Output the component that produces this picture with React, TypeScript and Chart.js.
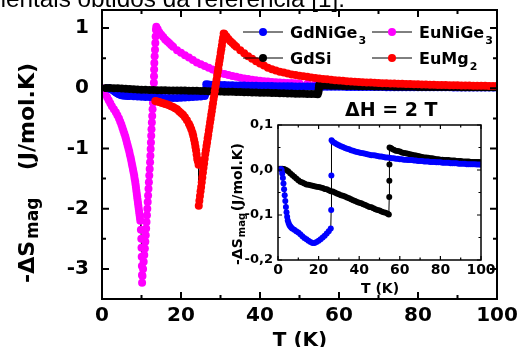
import { useEffect, useRef } from 'react';
import { Chart, registerables } from 'chart.js';

Chart.register(...registerables);

const FAMILY = '"DejaVu Sans", "Liberation Sans", Arial, sans-serif';

const COLORS: Record<string, string> = {
  GdNiGe3: '#0000ff',
  EuNiGe3: '#ff00ff',
  GdSi: '#000000',
  EuMg2: '#ff0000',
};

// ---------------- data (T in K, -ΔS in J/mol.K) ----------------
const gdNiGe3T = [
  1.4, 1.8, 2.1, 2.4, 2.7, 3.0, 3.3, 3.6, 3.9, 4.2, 4.5, 4.8, 5.2, 5.6, 6.0, 6.5,
  7, 8, 9, 10, 11, 12, 13, 14, 15, 16, 17, 18, 19, 20, 21, 22, 23, 24, 25, 26,
  26.2, 26.3, 26.4,
  27, 28, 29, 30, 31, 32, 33, 34, 35, 36, 37, 38, 39, 40,
  41, 42, 43, 44, 45, 46, 47, 48, 49, 50,
  51, 52, 53, 54, 55, 56, 57, 58, 59, 60,
  61, 62, 63, 64, 65, 66, 67, 68, 69, 70,
  71, 72, 73, 74, 75, 76, 77, 78, 79, 80,
  81, 82, 83, 84, 85, 86, 87, 88, 89, 90,
  91, 92, 93, 94, 95, 96, 97, 98, 99, 100,
];
const gdNiGe3S = [
  0.002, 0.0, -0.008, -0.018, -0.03, -0.043, -0.056, -0.069, -0.082, -0.094, -0.104, -0.112, -0.118, -0.122, -0.125, -0.128,
  -0.13, -0.133, -0.136, -0.139, -0.143, -0.147, -0.151, -0.154, -0.157, -0.16, -0.162, -0.162, -0.16, -0.157, -0.154, -0.15, -0.146, -0.141, -0.136, -0.13,
  -0.089, -0.012, 0.066,
  0.063, 0.06, 0.057, 0.055, 0.053, 0.051, 0.049, 0.047, 0.046, 0.044, 0.043, 0.041, 0.04, 0.039,
  0.038, 0.037, 0.036, 0.035, 0.034, 0.033, 0.033, 0.032, 0.031, 0.03,
  0.03, 0.029, 0.028, 0.028, 0.027, 0.026, 0.026, 0.025, 0.025, 0.024,
  0.024, 0.023, 0.023, 0.022, 0.022, 0.022, 0.021, 0.021, 0.02, 0.02,
  0.02, 0.019, 0.019, 0.019, 0.018, 0.018, 0.018, 0.017, 0.017, 0.017,
  0.016, 0.016, 0.016, 0.016, 0.015, 0.015, 0.015, 0.015, 0.014, 0.014,
  0.014, 0.014, 0.013, 0.013, 0.013, 0.013, 0.013, 0.012, 0.012, 0.012,
];

const gdSiT = [
  1, 2, 3, 4, 5, 6, 7, 8, 9, 10,
  11, 12, 13, 14, 15, 16, 17, 18, 19, 20,
  21, 22, 23, 24, 25, 26, 27, 28, 29, 30,
  31, 32, 33, 34, 35, 36, 37, 38, 39, 40,
  41, 42, 43, 44, 45, 46, 47, 48, 49, 50,
  51, 52, 53, 54,
  54.6, 54.8, 54.85, 54.9, 54.95, 55.5,
  56, 57, 58, 59, 60,
  61, 62, 63, 64, 65, 66, 67, 68, 69, 70,
  71, 72, 73, 74, 75, 76, 77, 78, 79, 80,
  81, 82, 83, 84, 85, 86, 87, 88, 89, 90,
  91, 92, 93, 94, 95, 96, 97, 98, 99, 100,
];
const gdSiS = [
  0.003, 0.003, 0.002, 0.0, -0.003, -0.007, -0.011, -0.015, -0.019, -0.023,
  -0.026, -0.028, -0.03, -0.032, -0.033, -0.034, -0.035, -0.036, -0.037, -0.038,
  -0.039, -0.04, -0.042, -0.043, -0.045, -0.047, -0.048, -0.05, -0.052, -0.054,
  -0.056, -0.057, -0.059, -0.061, -0.063, -0.065, -0.067, -0.069, -0.071, -0.073,
  -0.074, -0.076, -0.078, -0.08, -0.082, -0.083, -0.085, -0.087, -0.089, -0.09,
  -0.092, -0.094, -0.095, -0.097,
  -0.099, -0.06, -0.024, 0.012, 0.05, 0.049,
  0.047, 0.045, 0.043, 0.042, 0.041,
  0.039, 0.038, 0.037, 0.036, 0.035, 0.034, 0.033, 0.032, 0.031, 0.03,
  0.029, 0.028, 0.028, 0.027, 0.026, 0.026, 0.025, 0.024, 0.024, 0.023,
  0.023, 0.022, 0.022, 0.022, 0.021, 0.021, 0.021, 0.02, 0.02, 0.02,
  0.019, 0.019, 0.019, 0.019, 0.018, 0.018, 0.018, 0.018, 0.018, 0.017,
];

const euNiGe3T = [
  0, 0.45, 0.9, 1.3, 1.7, 2.1, 2.5, 3.0, 3.5, 3.9,
  4.3, 4.6, 4.9, 5.15, 5.4, 5.65, 5.9, 6.1, 6.3, 6.5,
  6.7, 6.9, 7.05, 7.25, 7.4, 7.55, 7.7, 7.85, 8.0, 8.15,
  8.25, 8.4, 8.5, 8.6, 8.7, 8.8, 8.9, 9.0, 9.1, 9.2,
  9.3, 9.4, 9.5, 9.6, 9.7, 9.85, 9.95, 10.0, 10.05, 10.1,
  10.12, 10.15,
  10.25, 10.4, 10.55, 10.7, 10.85, 10.97, 11.07, 11.17, 11.27, 11.37,
  11.47, 11.57, 11.67, 11.77, 11.87, 11.97, 12.07, 12.17, 12.25, 12.32,
  12.39, 12.46, 12.53, 12.62, 12.71, 12.8, 12.9, 13.0, 13.08, 13.13,
  13.17, 13.2, 13.25, 13.33, 13.42, 13.5, 13.58, 13.66, 13.75,
  14.1, 14.5, 15, 15.5, 16, 16.5, 17, 17.5, 18,
  19, 20, 21, 22, 23, 24, 25, 26, 27, 28,
  29, 30, 31, 32, 33, 34, 35, 36, 37, 38,
  39, 40, 41, 42, 43, 44, 45, 46, 47, 48,
  49, 50,
  52, 54, 56, 58, 60, 62, 64, 66, 68, 70,
  72, 74, 76, 78, 80, 82, 84, 86, 88, 90,
  92, 94, 96, 98, 100,
];
const euNiGe3S = [
  0, -0.05, -0.1, -0.15, -0.2, -0.25, -0.3, -0.35, -0.4, -0.45,
  -0.5, -0.55, -0.6, -0.65, -0.7, -0.75, -0.8, -0.85, -0.9, -0.95,
  -1.0, -1.05, -1.1, -1.15, -1.2, -1.25, -1.3, -1.35, -1.4, -1.45,
  -1.5, -1.55, -1.6, -1.65, -1.7, -1.75, -1.8, -1.85, -1.9, -1.95,
  -2.0, -2.05, -2.1, -2.15, -2.2, -2.35, -2.5, -2.65, -2.8, -2.95,
  -3.1, -3.23,
  -3.12, -3.0, -2.88, -2.77, -2.66, -2.55, -2.44, -2.33, -2.22, -2.11,
  -2.0, -1.89, -1.78, -1.67, -1.56, -1.45, -1.34, -1.23, -1.12, -1.01,
  -0.9, -0.79, -0.68, -0.57, -0.46, -0.35, -0.24, -0.13, -0.02, 0.09,
  0.2, 0.31, 0.42, 0.53, 0.64, 0.75, 0.86, 0.97, 1.02,
  0.98, 0.93, 0.89, 0.85, 0.81, 0.78, 0.75, 0.72, 0.69,
  0.63, 0.59, 0.55, 0.51, 0.47, 0.43, 0.4, 0.37, 0.34, 0.31,
  0.275, 0.25, 0.235, 0.22, 0.205, 0.19, 0.175, 0.163, 0.152, 0.142,
  0.133, 0.125, 0.118, 0.112, 0.106, 0.101, 0.097, 0.093, 0.089, 0.086,
  0.083, 0.08,
  0.075, 0.071, 0.067, 0.063, 0.06, 0.057, 0.054, 0.052, 0.05, 0.048,
  0.046, 0.044, 0.043, 0.041, 0.04, 0.039, 0.038, 0.037, 0.036, 0.035,
  0.034, 0.033, 0.032, 0.031, 0.03,
];

const euMg2T = [
  13.5, 14, 14.5, 15, 15.5, 16, 16.5, 17, 17.5, 18,
  18.5, 19, 19.5, 20, 20.5, 21, 21.5, 22, 22.3, 22.6,
  22.9, 23.1, 23.3, 23.5, 23.65, 23.8, 23.95, 24.1, 24.25, 24.45,
  24.5, 24.65, 24.8, 24.95, 25.1, 25.25, 25.4, 25.55, 25.7, 25.85,
  26.0, 26.15, 26.3, 26.45, 26.6, 26.75, 26.9, 27.05, 27.2, 27.35,
  27.5, 27.65, 27.8, 27.95, 28.1, 28.25, 28.4, 28.55, 28.7, 28.85,
  29.0, 29.15, 29.3, 29.45, 29.6, 29.75, 29.9, 30.05, 30.2, 30.35,
  30.5, 30.65, 30.8,
  31, 31.5, 32, 32.5, 33, 33.5, 34,
  35, 36, 37, 38, 39, 40, 41, 42, 43, 44,
  45, 46, 47, 48, 49, 50, 51, 52, 53, 54,
  55, 56, 57, 58, 59, 60, 61, 62, 63, 64,
  65, 66, 67, 68, 69, 70, 71, 72, 73, 74,
  75, 76, 77, 78, 79, 80, 81, 82, 83, 84,
  85, 86, 87, 88, 89, 90, 91, 92, 93, 94,
  95, 96, 97, 98, 99, 100,
];
const euMg2S = [
  -0.21, -0.22, -0.23, -0.24, -0.25, -0.26, -0.27, -0.28, -0.3, -0.31,
  -0.33, -0.35, -0.38, -0.41, -0.44, -0.48, -0.53, -0.59, -0.63, -0.68,
  -0.74, -0.79, -0.85, -0.91, -0.97, -1.03, -1.1, -1.17, -1.21, -1.27,
  -1.95, -1.87, -1.79, -1.71, -1.64, -1.56, -1.48, -1.4, -1.32, -1.25,
  -1.17, -1.09, -1.03, -0.96, -0.9, -0.83, -0.77, -0.7, -0.64, -0.57,
  -0.51, -0.44, -0.38, -0.31, -0.25, -0.18, -0.12, -0.05, 0.02, 0.08,
  0.14, 0.21, 0.27, 0.33, 0.4, 0.46, 0.52, 0.59, 0.65, 0.71,
  0.78, 0.84, 0.91,
  0.9, 0.86, 0.82, 0.78, 0.75, 0.72, 0.69,
  0.63, 0.58, 0.53, 0.49, 0.45, 0.41, 0.38, 0.34, 0.315, 0.295,
  0.275, 0.26, 0.245, 0.23, 0.22, 0.21, 0.2, 0.19, 0.18, 0.172,
  0.164, 0.156, 0.149, 0.142, 0.135, 0.129, 0.123, 0.118, 0.113, 0.108,
  0.104, 0.1, 0.097, 0.094, 0.091, 0.088, 0.085, 0.083, 0.08, 0.078,
  0.076, 0.074, 0.072, 0.07, 0.068, 0.066, 0.064, 0.062, 0.06, 0.058,
  0.056, 0.055, 0.053, 0.052, 0.05, 0.049, 0.047, 0.046, 0.045, 0.043,
  0.042, 0.041, 0.04, 0.039, 0.038, 0.037,
];

// ---------------- axes / labels ----------------
const mainXTicks = [0, 20, 40, 60, 80, 100];
const mainXMinor = [10, 30, 50, 70, 90];
const mainYTicks = [-3, -2, -1, 0, 1];
const mainYMinor = [-3.5, -2.5, -1.5, -0.5, 0.5];
const insetXTicks = [0, 20, 40, 60, 80, 100];
const insetXMinor = [10, 30, 50, 70, 90];
const insetYTicks = [-0.2, -0.1, 0, 0.1];
const insetYMinor = [-0.15, -0.05, 0.05];

const legendOrder = ['GdNiGe3', 'EuNiGe3', 'GdSi', 'EuMg2'];
const caption = 'experimentais obtidos da referência [1].';
const fieldLabel = 'ΔH = 2 T';
const xTitle = 'T (K)';
const yTitleMain = '-ΔS';
const yTitleSub = 'mag';
const yTitleUnit = '(J/mol.K)';

const pts = (t: number[], s: number[]) => t.map((x, i) => ({ x, y: s[i] }));

function dataset(label: string, t: number[], s: number[], order: number, radius: number) {
  return {
    label,
    data: pts(t, s),
    showLine: true,
    borderColor: '#000000',
    borderWidth: 1,
    pointRadius: radius,
    pointHoverRadius: radius,
    pointBackgroundColor: COLORS[label],
    pointBorderColor: COLORS[label],
    pointBorderWidth: 0,
    tension: 0,
    order,
  };
}

const framePlugin = {
  id: 'frame',
  afterDatasetsDraw(chart: any, _args: any, o: any) {
    const { ctx, chartArea: a } = chart;
    const xs = chart.scales.x;
    const ys = chart.scales.y;
    ctx.save();
    ctx.strokeStyle = '#000';
    ctx.lineWidth = o.tickWidth;
    ctx.beginPath();
    const vx = (vals: number[], len: number) =>
      vals.forEach((v) => {
        const p = xs.getPixelForValue(v);
        ctx.moveTo(p, a.bottom);
        ctx.lineTo(p, a.bottom - len);
        ctx.moveTo(p, a.top);
        ctx.lineTo(p, a.top + len);
      });
    const vy = (vals: number[], len: number) =>
      vals.forEach((v) => {
        const p = ys.getPixelForValue(v);
        ctx.moveTo(a.left, p);
        ctx.lineTo(a.left + len, p);
        ctx.moveTo(a.right, p);
        ctx.lineTo(a.right - len, p);
      });
    vx(o.xMajor, o.major);
    vx(o.xMinor, o.minor);
    vy(o.yMajor, o.major);
    vy(o.yMinor, o.minor);
    ctx.stroke();
    ctx.lineWidth = o.frameWidth;
    ctx.strokeRect(a.left, a.top, a.right - a.left, a.bottom - a.top);
    ctx.restore();
  },
};

function drawYTitle(ctx: CanvasRenderingContext2D, x: number, y: number, size: number, subSize: number, drop: number, subGap: number, unitEnd: number) {
  ctx.save();
  ctx.translate(x, y);
  ctx.rotate(-Math.PI / 2);
  ctx.textAlign = 'left';
  ctx.textBaseline = 'alphabetic';
  ctx.font = `bold ${size}px ${FAMILY}`;
  ctx.fillText(yTitleMain, 0, 0);
  const w1 = ctx.measureText(yTitleMain).width;
  ctx.font = `bold ${subSize}px ${FAMILY}`;
  ctx.fillText(yTitleSub, w1 + subGap, drop);
  ctx.font = `bold ${size}px ${FAMILY}`;
  const w = ctx.measureText(yTitleUnit).width;
  ctx.fillText(yTitleUnit, unitEnd - w, 0);
  ctx.restore();
}

const mainTextPlugin = {
  id: 'mainText',
  afterDraw(chart: any) {
    const ctx: CanvasRenderingContext2D = chart.ctx;
    ctx.save();
    ctx.fillStyle = '#000';
    ctx.textBaseline = 'alphabetic';
    // caption of the page above, cut by the picture edge
    ctx.font = '24.3px "Liberation Sans", Arial, sans-serif';
    ctx.textAlign = 'right';
    ctx.fillText(caption, 345, 7);
    // axis titles
    drawYTitle(ctx, 34, 283, 22, 17, 4, 2, 220);
    ctx.font = `bold 20px ${FAMILY}`;
    ctx.textAlign = 'center';
    ctx.fillText(xTitle, 300, 346);
    // legend
    const cols = [243, 372];
    const rows = [32, 58];
    legendOrder.forEach((label, i) => {
      const lx = cols[i % 2];
      const ly = rows[Math.floor(i / 2)];
      ctx.strokeStyle = '#000';
      ctx.lineWidth = 1;
      ctx.beginPath();
      ctx.moveTo(lx, ly);
      ctx.lineTo(lx + 40, ly);
      ctx.stroke();
      ctx.fillStyle = COLORS[label];
      ctx.beginPath();
      ctx.arc(lx + 20, ly, 4, 0, Math.PI * 2);
      ctx.fill();
      ctx.fillStyle = '#000';
      const m = label.match(/^(.*?)(\d*)$/)!;
      ctx.textAlign = 'left';
      ctx.font = `bold 16px ${FAMILY}`;
      ctx.fillText(m[1], lx + 47, ly + 5.5);
      const w = ctx.measureText(m[1]).width;
      if (m[2]) {
        ctx.font = `bold 11px ${FAMILY}`;
        ctx.fillText(m[2], lx + 47 + w + 1, ly + 12);
      }
    });
    ctx.font = `bold 19px ${FAMILY}`;
    ctx.textAlign = 'left';
    ctx.fillText(fieldLabel, 345, 116);
    ctx.restore();
  },
};

const insetTextPlugin = {
  id: 'insetText',
  afterDraw(chart: any) {
    const ctx: CanvasRenderingContext2D = chart.ctx;
    ctx.save();
    ctx.fillStyle = '#000';
    drawYTitle(ctx, 242, 265, 14, 10, 3, 1, 122);
    ctx.font = `bold 14px ${FAMILY}`;
    ctx.textAlign = 'center';
    ctx.textBaseline = 'alphabetic';
    ctx.fillText(xTitle, 380, 293);
    ctx.restore();
  },
};

function axis(min: number, max: number, ticks: number[], size: number, padding: number, fmt: (v: number) => string, fit: (s: any) => void) {
  return {
    type: 'linear',
    min,
    max,
    grid: { display: false, drawTicks: false },
    border: { display: false },
    ticks: {
      color: '#000',
      font: { family: FAMILY, size, weight: 'bold' },
      padding,
      maxRotation: 0,
      autoSkip: false,
      callback: (v: any) => fmt(Number(v)),
    },
    afterBuildTicks: (s: any) => {
      s.ticks = ticks.map((value) => ({ value }));
    },
    afterFit: fit,
  };
}

function mainConfig(): any {
  return {
    type: 'scatter',
    data: {
      datasets: [
        dataset('EuMg2', euMg2T, euMg2S, 0, 4),
        dataset('GdSi', gdSiT, gdSiS, 1, 4),
        dataset('GdNiGe3', gdNiGe3T, gdNiGe3S, 2, 4),
        dataset('EuNiGe3', euNiGe3T, euNiGe3S, 3, 4),
      ],
    },
    options: {
      animation: false,
      responsive: false,
      devicePixelRatio: 1,
      events: [],
      layout: { padding: { left: 0, top: 10, right: 21, bottom: 0 } },
      plugins: {
        legend: { display: false },
        tooltip: { enabled: false },
        frame: { xMajor: mainXTicks, xMinor: mainXMinor, yMajor: mainYTicks, yMinor: mainYMinor, major: 7, minor: 4, tickWidth: 2, frameWidth: 2 },
      },
      scales: {
        x: axis(0, 100, mainXTicks, 20, 5, (v) => String(v), (s: any) => {
          s.height = 48; s.paddingLeft = 0; s.paddingRight = 0;
        }),
        y: axis(-3.5, 1.3, mainYTicks, 20, 13, (v) => String(v), (s: any) => {
          s.width = 102; s.paddingTop = 0; s.paddingBottom = 0;
        }),
      },
    },
    plugins: [framePlugin, mainTextPlugin],
  };
}

function insetConfig(): any {
  return {
    type: 'scatter',
    data: {
      datasets: [
        dataset('GdSi', gdSiT, gdSiS, 1, 3),
        dataset('GdNiGe3', gdNiGe3T, gdNiGe3S, 0, 3),
      ],
    },
    options: {
      animation: false,
      responsive: false,
      devicePixelRatio: 1,
      events: [],
      layout: { padding: { left: 238, top: 125, right: 37, bottom: 57 } },
      plugins: {
        legend: { display: false },
        tooltip: { enabled: false },
        frame: { xMajor: insetXTicks, xMinor: insetXMinor, yMajor: insetYTicks, yMinor: insetYMinor, major: 4, minor: 2.5, tickWidth: 1.2, frameWidth: 1.5 },
      },
      scales: {
        x: axis(0, 100, insetXTicks, 14, 2, (v) => String(v), (s: any) => {
          s.height = 30; s.paddingLeft = 0; s.paddingRight = 0;
        }),
        y: axis(-0.2, 0.1, insetYTicks, 13, 5, (v) => v.toFixed(1).replace('.', ','), (s: any) => {
          s.width = 40; s.paddingTop = 0; s.paddingBottom = 0;
        }),
      },
    },
    plugins: [framePlugin, insetTextPlugin],
  };
}

export default function App() {
  const mainRef = useRef<HTMLCanvasElement>(null);
  const insetRef = useRef<HTMLCanvasElement>(null);
  useEffect(() => {
    document.body.style.margin = '0';
    const main = new Chart(mainRef.current as HTMLCanvasElement, mainConfig());
    const inset = new Chart(insetRef.current as HTMLCanvasElement, insetConfig());
    return () => {
      main.destroy();
      inset.destroy();
    };
  }, []);
  return (
    <div style={{ position: 'relative', width: 518, height: 347, background: '#fff', overflow: 'hidden' }}>
      <canvas ref={mainRef} width={518} height={347} style={{ position: 'absolute', left: 0, top: 0 }} />
      <canvas ref={insetRef} width={518} height={347} style={{ position: 'absolute', left: 0, top: 0 }} />
    </div>
  );
}
